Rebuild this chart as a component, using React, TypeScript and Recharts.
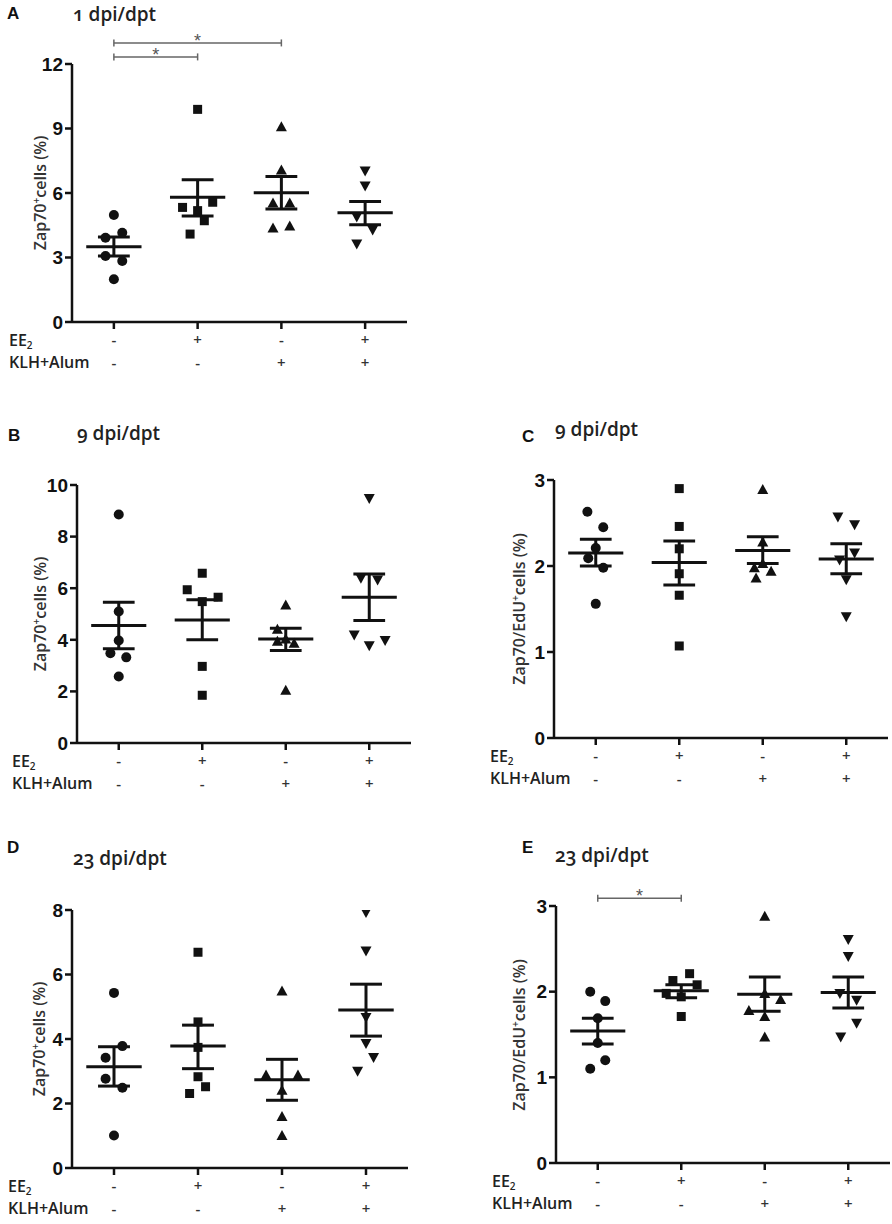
import type { ReactNode } from 'react'
import { ReferenceDot, ReferenceLine, Scatter, ScatterChart, XAxis, YAxis } from 'recharts'

const groups = ['Control', 'EE2', 'KLH+Alum', 'EE2 + KLH+Alum']
const markers = ['circle', 'square', 'up', 'down']
const eeRow = ['-', '+', '-', '+']
const klhRow = ['-', '-', '+', '+']

// A: 1 dpi/dpt, Zap70+ cells
const aValues = [
  [4.98, 3.92, 4.15, 3.07, 2.84, 1.99],
  [9.89, 5.33, 5.57, 5.18, 4.71, 4.09],
  [9.08, 7.07, 5.53, 5.53, 4.37, 4.47],
  [7.02, 6.33, 4.88, 4.28, 3.63],
]
const aJitter = [
  [0, -0.1, 0.1, -0.1, 0.1, 0],
  [0, -0.18, 0.18, 0, 0.08, -0.09],
  [0, 0, -0.1, 0.1, -0.1, 0.1],
  [0, 0, -0.1, 0.09, -0.1],
]
const aMean = [3.5, 5.8, 6.01, 5.08]
const aSemHi = [3.95, 6.62, 6.77, 5.6]
const aSemLo = [3.07, 4.93, 5.26, 4.52]
const aTicks = [0, 3, 6, 9, 12]
const aSig = [
  { from: 0, to: 1, y: 12.33 },
  { from: 0, to: 2, y: 12.98 },
]

// B: 9 dpi/dpt, Zap70+ cells
const bValues = [
  [8.86, 5.1, 3.97, 3.48, 3.32, 2.58],
  [6.58, 5.94, 5.48, 5.65, 2.97, 1.85],
  [5.35, 4.41, 4.03, 3.94, 3.87, 2.04],
  [9.48, 6.39, 6.32, 4.19, 3.77, 3.97],
]
const bJitter = [
  [0, 0, 0, -0.1, 0.09, 0],
  [0, -0.18, 0, 0.19, 0, 0],
  [0, -0.1, 0, -0.1, 0.1, 0],
  [0, -0.1, 0.1, -0.18, 0, 0.19],
]
const bMean = [4.55, 4.77, 4.03, 5.65]
const bSemHi = [5.46, 5.55, 4.45, 6.55]
const bSemLo = [3.65, 4.0, 3.59, 4.75]
const bTicks = [0, 2, 4, 6, 8, 10]

// C: 9 dpi/dpt, Zap70/EdU+ cells
const cValues = [
  [2.63, 2.45, 2.21, 2.09, 1.98, 1.56],
  [2.9, 2.46, 2.2, 1.91, 1.66, 1.07],
  [2.89, 2.28, 2.03, 1.98, 1.94, 1.86],
  [2.57, 2.48, 2.07, 2.15, 1.84, 1.41],
]
const cJitter = [
  [-0.1, 0.09, 0, -0.09, 0.09, 0],
  [0, 0, 0, 0, 0, 0],
  [0, 0, 0, -0.1, 0.1, -0.08],
  [-0.1, 0.1, -0.08, 0.1, 0, 0],
]
const cMean = [2.15, 2.04, 2.18, 2.08]
const cSemHi = [2.31, 2.29, 2.34, 2.26]
const cSemLo = [2.0, 1.78, 2.03, 1.91]
const cTicks = [0, 1, 2, 3]

// D: 23 dpi/dpt, Zap70+ cells
const dValues = [
  [5.43, 3.78, 3.42, 2.77, 2.49, 1.01],
  [6.69, 4.53, 3.74, 2.83, 2.52, 2.31],
  [5.49, 2.88, 2.88, 2.41, 1.6, 1.01],
  [7.92, 6.73, 4.67, 3.86, 3.43, 3.0],
]
const dJitter = [
  [0, 0.1, -0.1, -0.1, 0.1, 0],
  [0, 0, 0, 0, 0.09, -0.1],
  [0, -0.19, 0.19, 0, 0, 0],
  [0, 0, 0, 0, 0.09, -0.1],
]
const dMean = [3.14, 3.78, 2.74, 4.9]
const dSemHi = [3.76, 4.43, 3.37, 5.7]
const dSemLo = [2.54, 3.08, 2.1, 4.09]
const dTicks = [0, 2, 4, 6, 8]

// E: 23 dpi/dpt, Zap70/EdU+ cells
const eValues = [
  [2.0, 1.89, 1.69, 1.4, 1.2, 1.1],
  [2.13, 2.21, 2.08, 1.98, 1.94, 1.71],
  [2.88, 1.98, 1.91, 1.78, 1.71, 1.47],
  [2.61, 2.41, 1.98, 1.9, 1.63, 1.47],
]
const eJitter = [
  [-0.09, 0.09, 0, 0, 0.09, -0.09],
  [-0.1, 0.1, 0.19, -0.18, 0, 0],
  [0, 0, 0.19, -0.19, 0, 0],
  [0, 0, -0.1, 0.1, 0.1, -0.09],
]
const eMean = [1.54, 2.01, 1.97, 1.99]
const eSemHi = [1.69, 2.08, 2.17, 2.17]
const eSemLo = [1.39, 1.93, 1.77, 1.81]
const eTicks = [0, 1, 2, 3]
const eSig = [{ from: 0, to: 1, y: 3.09 }]

const INK = '#111'
const YW = 50
const MEAN_HALF = 0.33
const CAP_HALF = 0.19
const LABEL_FONT = '"Open Sans", "Noto Sans", sans-serif'

interface Sig {
  from: number
  to: number
  y: number
}

interface PanelProps {
  letter: string
  title: string
  yLabel: ReactNode
  values: number[][]
  jitter: number[][]
  mean: number[]
  semHi: number[]
  semLo: number[]
  ticks: number[]
  sig?: Sig[]
  chartLeft: number
  chartTop: number
  axisX: number
  plotTop: number
  plotBottom: number
  plotRight: number
  letterPos: [number, number]
  titlePos: [number, number]
  rowX: number
  yLabelPos: [number, number]
}

function makeShape(kind: string) {
  return (p: any) => {
    const { cx, cy } = p
    if (cx == null || cy == null) return <g />
    if (kind === 'circle') return <circle cx={cx} cy={cy} r={5} fill={INK} />
    if (kind === 'square')
      return <rect x={cx - 4.5} y={cy - 4.5} width={9} height={9} fill={INK} />
    if (kind === 'up')
      return <path d={`M${cx},${cy - 5.5}L${cx + 5.5},${cy + 4.5}L${cx - 5.5},${cy + 4.5}Z`} fill={INK} />
    return <path d={`M${cx},${cy + 5.5}L${cx + 5.5},${cy - 4.5}L${cx - 5.5},${cy - 4.5}Z`} fill={INK} />
  }
}

function SignTick(props: any) {
  const { x, y, payload } = props
  const i = Math.round(payload.value - 0.5)
  const axisY = y - 9
  const style = { fontSize: 15, fontFamily: LABEL_FONT, fill: '#333', fontWeight: 600 }
  return (
    <g>
      <text x={x} y={axisY + 17} textAnchor="middle" dominantBaseline="central" style={style}>
        {eeRow[i]}
      </text>
      <text x={x} y={axisY + 40} textAnchor="middle" dominantBaseline="central" style={style}>
        {klhRow[i]}
      </text>
    </g>
  )
}

function Panel(p: PanelProps) {
  const width = p.plotRight - p.chartLeft + 2
  const height = p.plotBottom - p.chartTop + 50
  const yMax = p.ticks[p.ticks.length - 1]
  const pxPerUnit = (p.plotBottom - p.plotTop) / yMax
  const tickH = 3.5 / pxPerUnit

  const segs: { key: string; pts: [number, number, number, number]; w: number; color: string; visible?: boolean }[] = []
  p.mean.forEach((m, i) => {
    const c = i + 0.5
    segs.push({ key: `m${i}`, pts: [c - MEAN_HALF, m, c + MEAN_HALF, m], w: 3, color: INK })
    segs.push({ key: `h${i}`, pts: [c - CAP_HALF, p.semHi[i], c + CAP_HALF, p.semHi[i]], w: 3, color: INK })
    segs.push({ key: `l${i}`, pts: [c - CAP_HALF, p.semLo[i], c + CAP_HALF, p.semLo[i]], w: 3, color: INK })
    segs.push({ key: `v${i}`, pts: [c, p.semLo[i], c, p.semHi[i]], w: 3, color: INK })
  })
  ;(p.sig ?? []).forEach((s, i) => {
    const x1 = s.from + 0.5
    const x2 = s.to + 0.5
    segs.push({ key: `s${i}`, pts: [x1, s.y, x2, s.y], w: 1.5, color: '#666', visible: true })
    segs.push({ key: `sa${i}`, pts: [x1, s.y - tickH, x1, s.y + tickH], w: 1.5, color: '#666', visible: true })
    segs.push({ key: `sb${i}`, pts: [x2, s.y - tickH, x2, s.y + tickH], w: 1.5, color: '#666', visible: true })
  })

  const rowStyle = {
    position: 'absolute' as const,
    left: p.rowX,
    fontFamily: LABEL_FONT,
    fontWeight: 600,
    fontSize: 16,
    color: '#222',
    lineHeight: '20px',
    whiteSpace: 'nowrap' as const,
  }

  return (
    <>
      <div
        style={{
          position: 'absolute',
          left: p.letterPos[0],
          top: p.letterPos[1] - 10,
          fontFamily: 'Arial, "Liberation Sans", sans-serif',
          fontWeight: 700,
          fontSize: 17,
          lineHeight: '20px',
          color: '#111',
        }}
      >
        {p.letter}
      </div>
      <div
        style={{
          position: 'absolute',
          left: p.titlePos[0],
          top: p.titlePos[1] - 13,
          fontFamily: LABEL_FONT,
          fontWeight: 600,
          fontSize: 19,
          lineHeight: '26px',
          color: '#222',
          fontVariantNumeric: 'oldstyle-nums',
          whiteSpace: 'nowrap',
        }}
      >
        {p.title}
      </div>
      <div
        style={{
          position: 'absolute',
          left: p.yLabelPos[0],
          top: p.yLabelPos[1],
          transform: 'translate(-50%, -50%) rotate(-90deg)',
          fontFamily: LABEL_FONT,
          fontWeight: 600,
          fontSize: 16,
          color: '#333',
          whiteSpace: 'nowrap',
          lineHeight: '20px',
        }}
      >
        {p.yLabel}
      </div>
      <div style={{ ...rowStyle, top: p.plotBottom + 18 - 10 }}>
        EE<sub style={{ fontSize: 10, verticalAlign: -3 }}>2</sub>
      </div>
      <div style={{ ...rowStyle, top: p.plotBottom + 40 - 10 }}>KLH+Alum</div>
      <div style={{ position: 'absolute', left: p.chartLeft, top: p.chartTop }}>
        <ScatterChart
          width={width}
          height={height}
          margin={{ top: p.plotTop - p.chartTop, right: 2, bottom: 0, left: p.axisX - p.chartLeft - YW }}
        >
          <XAxis
            type="number"
            dataKey="x"
            domain={[0, 4]}
            ticks={[0.5, 1.5, 2.5, 3.5]}
            interval={0}
            allowDataOverflow
            height={50}
            tickSize={7}
            tickMargin={2}
            tick={<SignTick />}
            axisLine={{ stroke: INK, strokeWidth: 2.5 }}
            tickLine={{ stroke: INK, strokeWidth: 2.5 }}
          />
          <YAxis
            type="number"
            dataKey="y"
            domain={[0, yMax]}
            ticks={p.ticks}
            interval={0}
            allowDataOverflow
            width={YW}
            tickSize={7}
            tickMargin={2}
            tick={{
              fill: INK,
              fontSize: 19,
              fontWeight: 700,
              fontFamily: 'Arial, "Liberation Sans", sans-serif',
            }}
            axisLine={{ stroke: INK, strokeWidth: 2.5 }}
            tickLine={{ stroke: INK, strokeWidth: 2.5 }}
          />
          {groups.map((g, i) => (
            <Scatter
              key={g}
              name={g}
              data={p.values[i].map((v, k) => ({ x: i + 0.5 + p.jitter[i][k], y: v }))}
              shape={makeShape(markers[i])}
              isAnimationActive={false}
            />
          ))}
          {segs.map((s) => (
            <ReferenceLine
              key={s.key}
              segment={[
                { x: s.pts[0], y: s.pts[1] },
                { x: s.pts[2], y: s.pts[3] },
              ]}
              stroke={s.color}
              strokeWidth={s.w}
              ifOverflow={s.visible ? 'visible' : 'extendDomain'}
            />
          ))}
          {(p.sig ?? []).map((s, i) => (
            <ReferenceDot
              key={`star${i}`}
              x={(s.from + s.to) / 2 + 0.5}
              y={s.y}
              r={0}
              fill="none"
              stroke="none"
              ifOverflow="visible"
              label={{ value: '*', position: 'top', offset: -4, fill: '#555', fontSize: 18, fontFamily: 'Arial' }}
            />
          ))}
        </ScatterChart>
      </div>
    </>
  )
}

const zapLabel = (
  <span>
    Zap70<sup style={{ fontSize: 10 }}>+</sup>cells (%)
  </span>
)
const edu70Label = (
  <span>
    Zap70/EdU<sup style={{ fontSize: 10 }}>+</sup>cells (%)
  </span>
)

export default function App() {
  return (
    <div
      style={{
        position: 'absolute',
        left: 0,
        top: 0,
        width: 892,
        height: 1224,
        overflow: 'hidden',
        background: '#fff',
      }}
    >
      <Panel
        letter="A"
        title="1 dpi/dpt"
        yLabel={zapLabel}
        values={aValues}
        jitter={aJitter}
        mean={aMean}
        semHi={aSemHi}
        semLo={aSemLo}
        ticks={aTicks}
        sig={aSig}
        chartLeft={0}
        chartTop={0}
        axisX={72}
        plotTop={64}
        plotBottom={322}
        plotRight={407}
        letterPos={[7, 14]}
        titlePos={[73, 14]}
        rowX={9}
        yLabelPos={[38, 193]}
      />
      <Panel
        letter="B"
        title="9 dpi/dpt"
        yLabel={zapLabel}
        values={bValues}
        jitter={bJitter}
        mean={bMean}
        semHi={bSemHi}
        semLo={bSemLo}
        ticks={bTicks}
        chartLeft={0}
        chartTop={400}
        axisX={77}
        plotTop={485}
        plotBottom={743}
        plotRight={411}
        letterPos={[8, 436]}
        titlePos={[77, 433]}
        rowX={12}
        yLabelPos={[38, 614]}
      />
      <Panel
        letter="C"
        title="9 dpi/dpt"
        yLabel={edu70Label}
        values={cValues}
        jitter={cJitter}
        mean={cMean}
        semHi={cSemHi}
        semLo={cSemLo}
        ticks={cTicks}
        chartLeft={445}
        chartTop={400}
        axisX={554}
        plotTop={480}
        plotBottom={738}
        plotRight={888}
        letterPos={[522, 437]}
        titlePos={[555, 429]}
        rowX={490}
        yLabelPos={[517, 609]}
      />
      <Panel
        letter="D"
        title="23 dpi/dpt"
        yLabel={zapLabel}
        values={dValues}
        jitter={dJitter}
        mean={dMean}
        semHi={dSemHi}
        semLo={dSemLo}
        ticks={dTicks}
        chartLeft={0}
        chartTop={830}
        axisX={72}
        plotTop={910}
        plotBottom={1168}
        plotRight={408}
        letterPos={[7, 848]}
        titlePos={[73, 858]}
        rowX={8}
        yLabelPos={[37, 1039]}
      />
      <Panel
        letter="E"
        title="23 dpi/dpt"
        yLabel={edu70Label}
        values={eValues}
        jitter={eJitter}
        mean={eMean}
        semHi={eSemHi}
        semLo={eSemLo}
        ticks={eTicks}
        sig={eSig}
        chartLeft={445}
        chartTop={830}
        axisX={556}
        plotTop={906}
        plotBottom={1163}
        plotRight={890}
        letterPos={[522, 848]}
        titlePos={[555, 855]}
        rowX={492}
        yLabelPos={[517, 1035]}
      />
    </div>
  )
}
